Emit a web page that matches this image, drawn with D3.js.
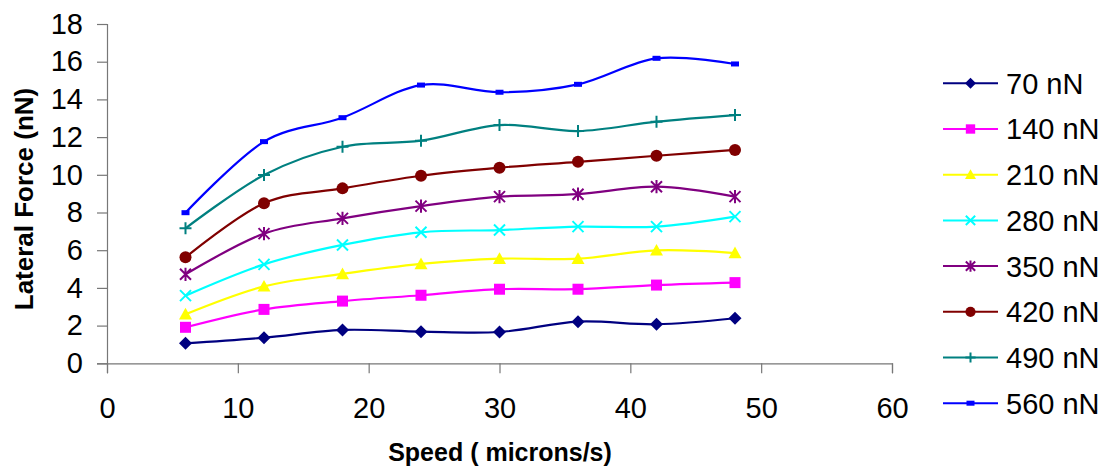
<!DOCTYPE html>
<html>
<head>
<meta charset="utf-8">
<script src="https://cdn.jsdelivr.net/npm/d3@7"></script>
<style>
  body { margin: 0; background: #fff; }
  text { font-family: "Liberation Sans", Arial, sans-serif; fill: #000; }
</style>
</head>
<body>
<div id="chart"></div>
<script>
// speeds in microns/s
const speeds = [6, 12, 18, 24, 30, 36, 42, 48];

// lateral force (nN) per normal load
const load70 = [1.06, 1.36, 1.77, 1.68, 1.66, 2.21, 2.07, 2.39];
const load140 = [1.91, 2.86, 3.30, 3.61, 3.93, 3.93, 4.15, 4.28];
const load210 = [2.60, 4.08, 4.74, 5.27, 5.55, 5.55, 5.99, 5.85];
const load280 = [3.59, 5.25, 6.28, 6.95, 7.07, 7.25, 7.25, 7.78];
const load350 = [4.72, 6.88, 7.69, 8.34, 8.84, 8.97, 9.37, 8.84];
const load420 = [5.62, 8.49, 9.28, 9.95, 10.38, 10.69, 11.01, 11.32];
const load490 = [7.16, 9.99, 11.49, 11.81, 12.64, 12.32, 12.82, 13.17];
const load560 = [7.99, 11.76, 13.03, 14.76, 14.38, 14.80, 16.18, 15.88];

const seriesNames = ["70 nN", "140 nN", "210 nN", "280 nN", "350 nN", "420 nN", "490 nN", "560 nN"];
const xTicks = [0, 10, 20, 30, 40, 50, 60];
const yTicks = [0, 2, 4, 6, 8, 10, 12, 14, 16, 18];

const series = [
  { name: seriesNames[0], values: load70,  color: "#000080", marker: "diamond" },
  { name: seriesNames[1], values: load140, color: "#ff00ff", marker: "square" },
  { name: seriesNames[2], values: load210, color: "#ffff00", marker: "triangle" },
  { name: seriesNames[3], values: load280, color: "#00ffff", marker: "cross" },
  { name: seriesNames[4], values: load350, color: "#800080", marker: "star" },
  { name: seriesNames[5], values: load420, color: "#800000", marker: "circle" },
  { name: seriesNames[6], values: load490, color: "#008080", marker: "plus" },
  { name: seriesNames[7], values: load560, color: "#0000ff", marker: "dash" },
];

const width = 1101, height = 467;
const svg = d3.select("#chart").append("svg")
  .attr("width", width)
  .attr("height", height);

const x = d3.scaleLinear().domain([0, 60]).range([107, 892]);
const y = d3.scaleLinear().domain([0, 18]).range([363.3, 24]);

// axes
const xAxis = svg.append("g")
  .attr("transform", `translate(0,${y(0)})`)
  .call(d3.axisBottom(x).tickValues(xTicks).tickSize(10).tickPadding(24));
const yAxis = svg.append("g")
  .attr("transform", `translate(${x(0)},0)`)
  .call(d3.axisLeft(y).tickValues(yTicks).tickSize(10).tickPadding(14));

[xAxis, yAxis].forEach(a => {
  a.select(".domain").attr("stroke", "#777").attr("stroke-width", 1.2);
  a.selectAll(".tick line").attr("stroke", "#777").attr("stroke-width", 1.2);
  a.selectAll(".tick text")
    .style("font-family", '"Liberation Sans", Arial, sans-serif')
    .style("font-size", "29px")
    .attr("fill", "#000");
});
xAxis.selectAll(".tick text").attr("dy", "0.71em");

// axis titles
svg.append("text")
  .attr("x", 500)
  .attr("y", 461)
  .attr("text-anchor", "middle")
  .style("font-size", "25px")
  .style("font-weight", "bold")
  .text("Speed ( microns/s)");

svg.append("text")
  .attr("transform", "translate(33,199) rotate(-90)")
  .attr("text-anchor", "middle")
  .style("font-size", "26px")
  .style("font-weight", "bold")
  .text("Lateral Force (nN)");

// marker drawing
function drawMarker(g, type, color, cx, cy, s) {
  const k = s || 1;
  if (type === "diamond") {
    const r = 6.5 * k;
    g.append("path").attr("d", `M${cx},${cy - r}L${cx + r},${cy}L${cx},${cy + r}L${cx - r},${cy}Z`).attr("fill", color);
  } else if (type === "square") {
    const r = 5.5 * k;
    g.append("rect").attr("x", cx - r).attr("y", cy - r).attr("width", 2 * r).attr("height", 2 * r).attr("fill", color);
  } else if (type === "triangle") {
    const r = 6.5 * k;
    g.append("path").attr("d", `M${cx},${cy - r}L${cx + r},${cy + r * 0.8}L${cx - r},${cy + r * 0.8}Z`).attr("fill", color);
  } else if (type === "cross") {
    const r = 5.5 * k;
    g.append("path").attr("d", `M${cx - r},${cy - r}L${cx + r},${cy + r}M${cx - r},${cy + r}L${cx + r},${cy - r}`)
      .attr("stroke", color).attr("stroke-width", 2).attr("fill", "none");
  } else if (type === "star") {
    const r = 5.5 * k;
    g.append("path").attr("d", `M${cx - r},${cy - r}L${cx + r},${cy + r}M${cx - r},${cy + r}L${cx + r},${cy - r}M${cx},${cy - r * 1.2}L${cx},${cy + r * 1.2}`)
      .attr("stroke", color).attr("stroke-width", 2).attr("fill", "none");
  } else if (type === "circle") {
    g.append("circle").attr("cx", cx).attr("cy", cy).attr("r", 6 * k).attr("fill", color);
  } else if (type === "plus") {
    const r = 6 * k;
    g.append("path").attr("d", `M${cx - r},${cy}L${cx + r},${cy}M${cx},${cy - r}L${cx},${cy + r}`)
      .attr("stroke", color).attr("stroke-width", 2).attr("fill", "none");
  } else if (type === "dash") {
    g.append("rect").attr("x", cx - 4).attr("y", cy - 2.5).attr("width", 8).attr("height", 5).attr("fill", color);
  }
}

// lines (Excel-style smoothing)
const line = d3.line()
  .x((d, i) => x(speeds[i]))
  .y(d => y(d))
  .curve(d3.curveCardinal.tension(0));

const plot = svg.append("g");
series.forEach(s => {
  plot.append("path")
    .attr("d", line(s.values))
    .attr("fill", "none")
    .attr("stroke", s.color)
    .attr("stroke-width", 2.2);
});
series.forEach(s => {
  const g = plot.append("g");
  s.values.forEach((v, i) => drawMarker(g, s.marker, s.color, x(speeds[i]), y(v), 1));
});

// legend
const legend = svg.append("g");
series.forEach((s, i) => {
  const ry = 83.3 + i * 45.7;
  const g = legend.append("g");
  g.append("line")
    .attr("x1", 943).attr("x2", 998)
    .attr("y1", ry).attr("y2", ry)
    .attr("stroke", s.color).attr("stroke-width", 2);
  drawMarker(g, s.marker, s.color, 970.5, ry, 0.85);
  g.append("text")
    .attr("x", 1006)
    .attr("y", ry)
    .attr("dy", "0.36em")
    .style("font-size", "29px")
    .text(s.name);
});
</script>
</body>
</html>
